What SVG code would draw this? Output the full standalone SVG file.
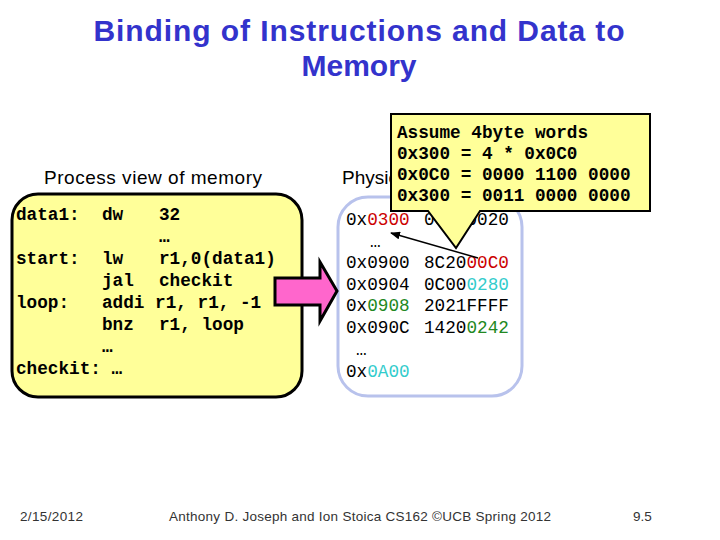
<svg xmlns="http://www.w3.org/2000/svg" width="720" height="540" viewBox="0 0 720 540">
<defs>
<style>
.title{font-family:"Liberation Sans",Arial,sans-serif;font-size:30px;font-weight:bold;fill:#3333CC;text-anchor:middle}
.lbl{font-family:"Liberation Sans",Arial,sans-serif;font-size:19px;fill:#000}
.code{font-family:"Liberation Mono","Courier New",monospace;font-size:17.7px;font-weight:bold;fill:#000}
.mem{font-family:"Liberation Mono","Courier New",monospace;font-size:17.7px;fill:#000}
.r{fill:#CC0000}.c{fill:#33CCCC}.g{fill:#228822}
.foot{font-family:"Liberation Sans",Arial,sans-serif;font-size:13.5px;fill:#333}
</style>
<marker id="ah" markerWidth="10" markerHeight="8" refX="9" refY="4" orient="auto" markerUnits="userSpaceOnUse">
<path d="M0,0 L10,4 L0,8 Z" fill="#000"/>
</marker>
</defs>
<rect width="720" height="540" fill="#fff"/>
<g id="title">
<text class="title" x="359" y="41" textLength="531">Binding of Instructions and Data to</text>
<text class="title" x="359" y="76">Memory</text>
</g>
<g id="process-label"><text class="lbl" x="44" y="184" textLength="218">Process view of memory</text></g>
<g id="physical-label"><text class="lbl" x="342" y="184">Physical memory</text></g>
<g id="process-box">
<rect x="12" y="194" width="290" height="203" rx="26" fill="#FFFF99" stroke="#000" stroke-width="3"/>
<text class="code" x="16" y="220">data1:</text><text class="code" x="102" y="220">dw</text><text class="code" x="159" y="220">32</text>
<text class="code" x="159" y="242">…</text>
<text class="code" x="16" y="264">start:</text><text class="code" x="102" y="264">lw</text><text class="code" x="159" y="264">r1,0(data1)</text>
<text class="code" x="102" y="286">jal</text><text class="code" x="159" y="286">checkit</text>
<text class="code" x="16" y="308">loop:</text><text class="code" x="102" y="308">addi r1, r1, -1</text>
<text class="code" x="102" y="330">bnz</text><text class="code" x="159" y="330">r1, loop</text>
<text class="code" x="102" y="352">…</text>
<text class="code" x="16" y="374">checkit: …</text>
</g>
<g id="physical-box">
<rect x="338" y="197" width="184" height="199" rx="30" fill="#fff" stroke="#B8C2EC" stroke-width="3"/>
<text class="mem" x="346" y="225">0x<tspan class="r">0300</tspan></text><text class="mem" x="424" y="225">00000020</text>
<text class="mem" x="370" y="247">…</text>
<text class="mem" x="346" y="268">0x0900</text><text class="mem" x="424" y="268">8C20<tspan class="r">00C0</tspan></text>
<text class="mem" x="346" y="290">0x0904</text><text class="mem" x="424" y="290">0C00<tspan class="c">0280</tspan></text>
<text class="mem" x="346" y="311">0x<tspan class="g">0908</tspan></text><text class="mem" x="424" y="311">2021FFFF</text>
<text class="mem" x="346" y="333">0x090C</text><text class="mem" x="424" y="333">1420<tspan class="g">0242</tspan></text>
<text class="mem" x="356" y="355">…</text>
<text class="mem" x="346" y="377">0x<tspan class="c">0A00</tspan></text>
</g>
<g id="map-arrow">
<polygon points="275,278 320,278 320,262 337,291 320,321 320,305 275,305" fill="#FF66CC" stroke="#000" stroke-width="3" stroke-linejoin="miter"/>
</g>
<g id="callout">
<path d="M391,114 H650 V211 H480 L456,248 L428,211 H391 Z" fill="#FFFF99" stroke="#000" stroke-width="2"/>
<text class="code" x="397" y="138">Assume 4byte words</text>
<text class="code" x="397" y="159">0x300 = 4 * 0x0C0</text>
<text class="code" x="397" y="180">0x0C0 = 0000 1100 0000</text>
<text class="code" x="397" y="201">0x300 = 0011 0000 0000</text>
</g>
<g id="connectors">
<line x1="478" y1="258" x2="391" y2="233" stroke="#000" stroke-width="1.5" marker-end="url(#ah)"/>
</g>
<g id="footer">
<text class="foot" x="20" y="521" textLength="63">2/15/2012</text>
<text class="foot" x="169" y="521" textLength="382">Anthony D. Joseph and Ion Stoica CS162 ©UCB Spring 2012</text>
<text class="foot" x="633" y="521">9.5</text>
</g>
</svg>
